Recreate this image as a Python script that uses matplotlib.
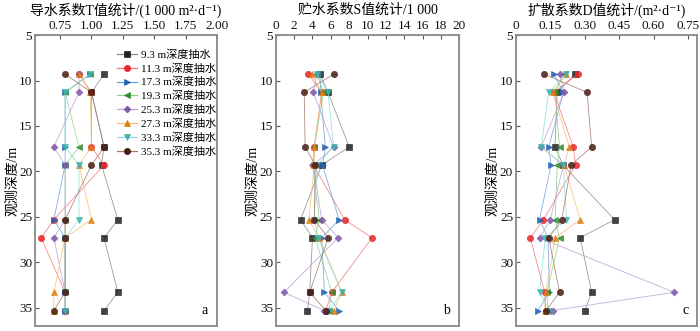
import matplotlib.pyplot as plt

plt.rcParams['font.family'] = ['Liberation Serif', 'Noto Sans CJK SC', 'DejaVu Serif']
plt.rcParams['axes.unicode_minus'] = False

# observation depths (m)
depths = [9.3, 11.3, 17.3, 19.3, 25.3, 27.3, 33.3, 35.3]

series_labels = ['9.3 m深度抽水', '11.3 m深度抽水', '17.3 m深度抽水', '19.3 m深度抽水',
                 '25.3 m深度抽水', '27.3 m深度抽水', '33.3 m深度抽水', '35.3 m深度抽水']

# transmissivity T / (1000 m2/d), one list per pumping depth
t_93 = [1.10, 1.00, 1.10, 1.08, 1.21, 1.10, 1.21, 1.10]
t_113 = [0.90, 1.00, 1.00, 1.10, 0.70, 0.60, 0.79, 0.79]
t_173 = [0.99, 0.79, 0.79, 0.79, 0.70, 0.79, 0.79, 0.79]
t_193 = [0.99, 0.79, 0.90, 0.79, 0.79, 0.79, 0.79, 0.79]
t_253 = [0.90, 0.90, 0.70, 0.79, 0.79, 0.70, 0.79, 0.79]
t_273 = [0.90, 0.99, 1.00, 0.90, 1.00, 0.79, 0.70, 0.70]
t_333 = [0.99, 0.79, 0.79, 0.90, 0.90, 0.79, 0.79, 0.79]
t_353 = [0.79, 1.00, 1.10, 1.00, 0.79, 0.79, 0.79, 0.70]

# storage coefficient S / 1000
s_93 = [4.8, 5.7, 8.0, 5.0, 2.7, 4.0, 3.7, 3.45]
s_113 = [3.56, 5.0, 4.2, 4.1, 7.5, 10.5, 6.1, 5.45]
s_173 = [4.8, 4.9, 5.4, 5.1, 6.9, 5.0, 5.3, 6.9]
s_193 = [4.5, 5.2, 4.2, 4.0, 4.75, 4.3, 6.1, 5.8]
s_253 = [4.5, 4.1, 6.3, 4.1, 5.0, 6.8, 0.9, 5.3]
s_273 = [3.9, 5.0, 4.2, 4.2, 3.6, 4.75, 7.2, 6.3]
s_333 = [4.5, 5.7, 6.3, 4.5, 4.2, 4.6, 7.2, 5.8]
s_353 = [6.3, 3.1, 3.2, 4.3, 4.2, 5.7, 3.7, 5.45]

# diffusivity D / (m2/d)
d_93 = [0.258, 0.18, 0.17, 0.205, 0.43, 0.28, 0.33, 0.30]
d_113 = [0.27, 0.165, 0.25, 0.26, 0.12, 0.063, 0.125, 0.13]
d_173 = [0.165, 0.207, 0.143, 0.153, 0.103, 0.14, 0.146, 0.096]
d_193 = [0.21, 0.17, 0.19, 0.18, 0.171, 0.19, 0.135, 0.14]
d_253 = [0.192, 0.21, 0.11, 0.207, 0.15, 0.103, 0.69, 0.16]
d_273 = [0.22, 0.16, 0.233, 0.21, 0.28, 0.172, 0.13, 0.125]
d_333 = [0.22, 0.143, 0.11, 0.207, 0.22, 0.128, 0.103, 0.146]
d_353 = [0.123, 0.31, 0.33, 0.24, 0.20, 0.143, 0.19, 0.132]

markers = ['s', 'o', '>', '<', 'D', '^', 'v', 'o']
marker_colors = ['#222222', '#e8252a', '#1f5fb4', '#2e8b2e', '#7e57a8', '#e07b12', '#3bb3ac', '#4a1e16']
line_colors = ['#8a8a8a', '#f07a7a', '#6fa0dc', '#8fd08f', '#b9a0d8', '#f5c070', '#90dcd6', '#a5786a']
marker_sizes = [4, 4.5, 4.5, 4.5, 3.5, 4.5, 4.5, 4.5]


def draw_panel(ax, data, xlim, xticks, xticklabels, title, tag):
    for i, vals in enumerate(data):
        ax.plot(vals, depths, color=line_colors[i], lw=0.6, alpha=0.85,
                marker=markers[i], markersize=marker_sizes[i],
                markerfacecolor=marker_colors[i], markeredgecolor=marker_colors[i],
                markeredgewidth=0.5, label=series_labels[i])
    ax.set_xlim(*xlim)
    ax.set_ylim(37, 5)
    ax.set_xticks(xticks)
    ax.set_xticklabels(xticklabels)
    ax.set_yticks([5, 10, 15, 20, 25, 30, 35])
    ax.xaxis.tick_top()
    ax.tick_params(direction='in', length=3, width=0.8, colors='#555555',
                   labelcolor='#111111', labelsize=9.5, pad=2)
    for sp in ax.spines.values():
        sp.set_color('#888888')
        sp.set_linewidth(1.3)
    ax.set_ylabel('观测深度/m', fontsize=10, labelpad=0)
    pos = ax.get_position()
    ax.figure.text((pos.x0 + pos.x1) / 2, 1 - 10 / 331, title, ha='center', va='center',
                   fontsize=10)
    ax.text(0.95, 0.03, tag, transform=ax.transAxes, ha='right', va='bottom', fontsize=10)


def main():
    fig = plt.figure(figsize=(7, 3.31), dpi=100)
    ax_a = fig.add_axes([0.05, 0.0151, 0.26, 0.879])
    ax_b = fig.add_axes([0.394, 0.0151, 0.262, 0.879])
    ax_c = fig.add_axes([0.737, 0.0151, 0.259, 0.879])

    draw_panel(ax_a, [t_93, t_113, t_173, t_193, t_253, t_273, t_333, t_353],
               (0.55, 2.0), [0.75, 1.0, 1.25, 1.5, 1.75, 2.0],
               ['0.75', '1.00', '1.25', '1.50', '1.75', '2.00'],
               '导水系数T值统计/(1 000 m²·d⁻¹)', 'a')
    draw_panel(ax_b, [s_93, s_113, s_173, s_193, s_253, s_273, s_333, s_353],
               (0, 20), list(range(0, 21, 2)), [str(v) for v in range(0, 21, 2)],
               '贮水系数S值统计/1 000', 'b')
    draw_panel(ax_c, [d_93, d_113, d_173, d_193, d_253, d_273, d_333, d_353],
               (0, 0.79), [0, 0.15, 0.30, 0.45, 0.60, 0.75],
               ['0', '0.15', '0.30', '0.45', '0.60', '0.75'],
               '扩散系数D值统计/(m²·d⁻¹)', 'c')

    leg = ax_a.legend(loc='upper right', bbox_to_anchor=(1.0, 0.955), frameon=False,
                      fontsize=8, labelspacing=0.3, handlelength=1.8,
                      handletextpad=0.3, borderaxespad=0, borderpad=0.1)
    for line in leg.get_lines():
        line.set_alpha(1.0)
        line.set_linewidth(0.9)

    fig.savefig('out.png', dpi=100)


if __name__ == '__main__':
    main()
